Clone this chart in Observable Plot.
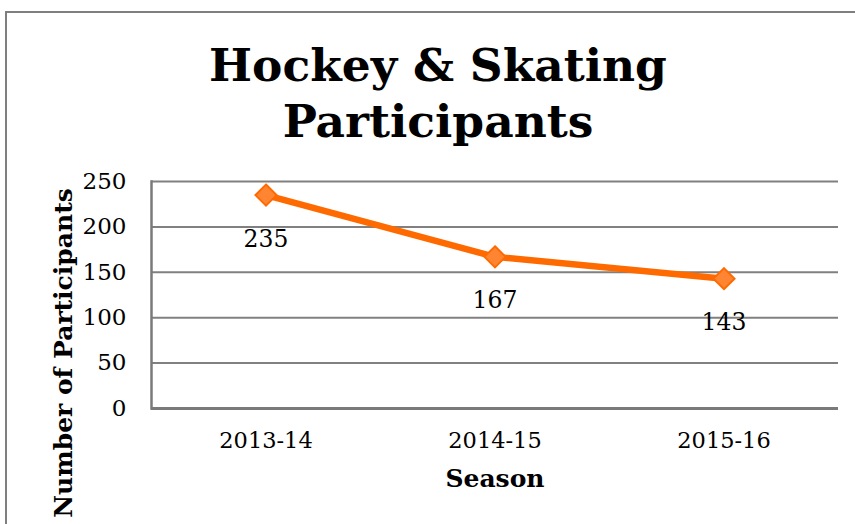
<!DOCTYPE html>
<html><head><meta charset="utf-8">
<script src="https://cdn.jsdelivr.net/npm/d3@7"></script>
<script src="https://cdn.jsdelivr.net/npm/@observablehq/plot@0.6"></script>
<style>
body{margin:0;background:#fff;}
#wrap{position:relative;width:855px;height:524px;overflow:hidden;background:#fff;}
#frame{position:absolute;left:5px;top:11px;width:900px;height:600px;border:2px solid #7f7f7f;}
#title{position:absolute;left:0;top:37px;width:876px;text-align:center;font-family:"DejaVu Serif";font-weight:bold;font-size:45.5px;line-height:56px;color:#000;}
#chart{position:absolute;left:0;top:160px;}
</style></head>
<body><div id="wrap"><div id="frame"></div><div id="title">Hockey &amp; Skating<br>Participants</div><div id="chart"></div></div>
<script>
const seasons = ["2013-14", "2014-15", "2015-16"];
const participants = [235, 167, 143];
const yTicks = [0, 50, 100, 150, 200, 250];
const xTitle = "Season";
const yTitle = "Number of Participants";

const data = seasons.map((s, i) => ({season: s, value: participants[i]}));

const plot = Plot.plot({
  width: 855,
  height: 364,
  marginTop: 21,
  marginBottom: 116,
  marginLeft: 151,
  marginRight: 17,
  style: {fontFamily: "DejaVu Serif", fontSize: "22px", color: "#000", background: "transparent", overflow: "visible"},
  x: {type: "band", domain: seasons, padding: 0, label: null},
  y: {domain: [0, 250], ticks: yTicks, label: null},
  marks: [
    Plot.gridY(yTicks, {stroke: "#808080", strokeOpacity: 1, strokeWidth: 2}),
    Plot.ruleY([0], {stroke: "#7a7a7a", strokeWidth: 3}),
    Plot.frame({anchor: "left", stroke: "#7a7a7a", strokeWidth: 2.5}),
    Plot.axisY(yTicks, {tickSize: 0, tickPadding: 25, fontSize: 23, label: null}),
    Plot.axisX({tickSize: 0, tickPadding: 24, fontSize: 22.5, label: null}),
    Plot.text([xTitle], {frameAnchor: "bottom", dy: 78, fontWeight: "bold", fontSize: 25}),
    Plot.text([yTitle], {frameAnchor: "left", textAnchor: "middle", lineAnchor: "middle", rotate: -90, dx: -88, dy: 58, fontWeight: "bold", fontSize: 25}),
    Plot.line(data, {x: "season", y: "value", stroke: "#ff6a00", strokeWidth: 6.5}),
    Plot.dot(data, {x: "season", y: "value", symbol: "diamond2", r: 9.5, fill: "#ff8533", stroke: "#ff6a00", strokeWidth: 2}),
    Plot.text(data, {x: "season", y: "value", text: d => String(d.value), dy: 44, fontSize: 23.5})
  ]
});
document.getElementById("chart").appendChild(plot);
</script>
</body></html>
